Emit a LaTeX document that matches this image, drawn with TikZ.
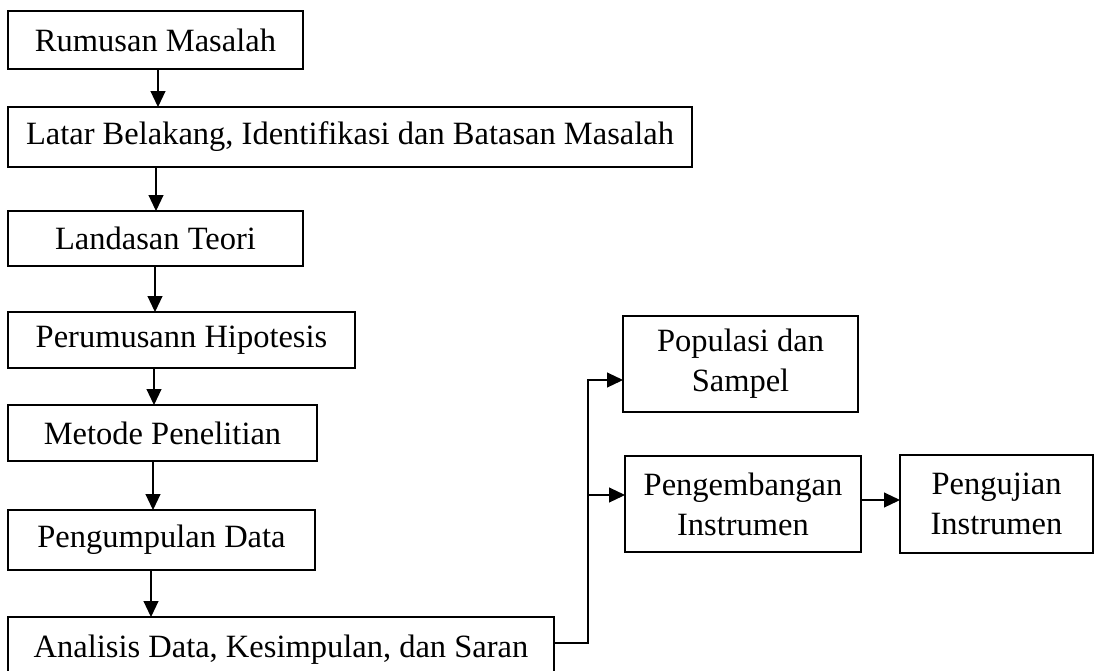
\documentclass[tikz,border=0pt]{standalone}
\usepackage{fontspec}
\setmainfont{Liberation Serif}
\usetikzlibrary{arrows.meta}
\begin{document}
\begin{tikzpicture}[x=1pt,y=-1pt,
  box/.style={draw=black, line width=1.1pt, inner sep=0pt, outer sep=0pt, anchor=north west,
    align=center, font=\fontsize{32.5}{40}\selectfont},
  arr/.style={draw=black, line width=1.1pt, -{Triangle[length=16pt,width=15pt]}},
  conn/.style={draw=black, line width=1.1pt}]
\clip (0,0) rectangle (1094,670);
\fill[white] (0,0) rectangle (1094,670);
\node[box, minimum width=295pt, minimum height=58pt] (r1) at (8,11) {Rumusan Masalah};
\node[box, minimum width=684pt, minimum height=60pt] (r2) at (8,107) {Latar Belakang, Identifikasi dan Batasan Masalah};
\node[box, minimum width=295pt, minimum height=55pt] (r3) at (8,211) {Landasan Teori};
\node[box, minimum width=347pt, minimum height=56pt] (r4) at (8,312) {Perumusann Hipotesis};
\node[box, minimum width=309pt, minimum height=56pt] (r5) at (8,405) {Metode Penelitian};
\node[box, minimum width=307pt, minimum height=60pt] (r6) at (8,510) {Pengumpulan Data};
\node[box, minimum width=546pt, minimum height=70pt, text depth=0pt] (r7) at (8,617) {\raisebox{12pt}{Analisis Data, Kesimpulan, dan Saran}};
\node[box, minimum width=235pt, minimum height=96pt] (pop) at (623,316) {Populasi dan\\Sampel};
\node[box, minimum width=236pt, minimum height=96pt] (peng) at (625,456) {Pengembangan\\Instrumen};
\node[box, minimum width=193pt, minimum height=98pt] (uji) at (900,455) {Pengujian\\Instrumen};

\draw[arr] ([xshift=150pt]r1.south west) -- ([xshift=150pt]r2.north west);
\draw[arr] ([xshift=148pt]r2.south west) -- ([xshift=148pt]r3.north west);
\draw[arr] ([xshift=147pt]r3.south west) -- ([xshift=147pt]r4.north west);
\draw[arr] ([xshift=146pt]r4.south west) -- ([xshift=146pt]r5.north west);
\draw[arr] ([xshift=145pt]r5.south west) -- ([xshift=145pt]r6.north west);
\draw[arr] ([xshift=143pt]r6.south west) -- ([xshift=143pt]r7.north west);

\coordinate (j1) at (588,643);
\coordinate (j1top) at (588,380);
\coordinate (j2) at (589,495);
\coordinate (y500) at (0,500);
\draw[arr] (r7.east |- j1) -- (j1) -- (j1top) -- (pop.west |- j1top);
\draw[arr] (j2) -- (peng.west |- j2);
\draw[arr] (peng.east |- y500) -- (uji.west |- y500);
\end{tikzpicture}
\end{document}
